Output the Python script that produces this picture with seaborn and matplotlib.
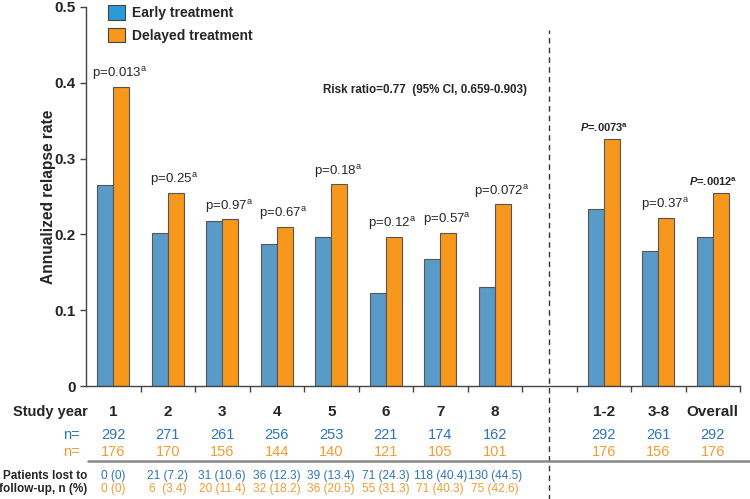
import matplotlib
matplotlib.use("Agg")
from matplotlib import pyplot as plt
from matplotlib.patches import Patch
from matplotlib.lines import Line2D
import seaborn as sns
import pandas as pd

categories = ["1", "2", "3", "4", "5", "6", "7", "8", " ", "1-2", "3-8", "Overall"]
groups = ["Early treatment", "Delayed treatment"]
early = [0.265, 0.202, 0.218, 0.187, 0.197, 0.123, 0.167, 0.131, None, 0.233, 0.178, 0.197]
delayed = [0.395, 0.255, 0.220, 0.210, 0.266, 0.197, 0.202, 0.240, None, 0.326, 0.222, 0.255]
p_labels = ["p=0.013", "p=0.25", "p=0.97", "p=0.67", "p=0.18", "p=0.12", "p=0.57", "p=0.072",
            None, "P=.0073", "p=0.37", "P=.0012"]
n_early = ["292", "271", "261", "256", "253", "221", "174", "162", "", "292", "261", "292"]
n_delayed = ["176", "170", "156", "144", "140", "121", "105", "101", "", "176", "156", "176"]
lost_early = ["0 (0)", "21 (7.2)", "31 (10.6)", "36 (12.3)", "39 (13.4)", "71 (24.3)", "118 (40.4)", "130 (44.5)"]
lost_delayed = ["0 (0)", "6  (3.4)", "20 (11.4)", "32 (18.2)", "36 (20.5)", "55 (31.3)", "71 (40.3)", "75 (42.6)"]

bar_blue = "#5a9ac7"
bar_orange = "#f7981d"
txt_blue = "#2e75b6"
txt_orange = "#f39c31"

rows = []
for c, e, d in zip(categories, early, delayed):
    if e is not None:
        rows.append({"cat": c, "grp": groups[0], "rate": e})
        rows.append({"cat": c, "grp": groups[1], "rate": d})
df = pd.DataFrame(rows)

sns.set_style("white")
plt.rcParams["font.family"] = ["Liberation Sans", "DejaVu Sans"]
plt.rcParams["mathtext.fontset"] = "custom"
plt.rcParams["mathtext.rm"] = "Liberation Sans"
plt.rcParams["mathtext.it"] = "Liberation Sans:italic"
plt.rcParams["mathtext.bf"] = "Liberation Sans:bold"
plt.rcParams["mathtext.bfit"] = "Liberation Sans:italic:bold"

fig, ax = plt.subplots(figsize=(7.5, 4.99), dpi=100)
fig.subplots_adjust(left=86 / 750, right=740 / 750, top=1 - 7 / 499, bottom=1 - 386 / 499)

sns.barplot(data=df, x="cat", y="rate", hue="grp", order=categories, hue_order=groups,
            palette=[bar_blue, bar_orange], saturation=1, width=0.59,
            edgecolor="#555555", linewidth=0.8, legend=False, ax=ax)

ax.set_xlim(-0.5, len(categories) - 0.5)
ax.set_ylim(0, 0.5)
ax.set_yticks([0, 0.1, 0.2, 0.3, 0.4, 0.5])
ax.set_yticklabels(["0", "0.1", "0.2", "0.3", "0.4", "0.5"], fontweight="bold", fontsize=11)
ax.set_ylabel("Annualized relapse rate", fontweight="bold", fontsize=11.2)
ax.yaxis.set_label_coords(-0.046, 0.5)
ax.set_xlabel("")
for s in ["top", "right"]:
    ax.spines[s].set_visible(False)
for s in ["left", "bottom"]:
    ax.spines[s].set_color("#444444")
    ax.spines[s].set_linewidth(1)
ax.tick_params(axis="y", direction="out", length=4, color="#444444", width=1, left=True)
ax.set_xticks(range(len(categories)))
ax.set_xticklabels(categories, fontweight="bold", fontsize=11)
ax.tick_params(axis="x", length=0, pad=14)
ax.set_xticks([i - 0.5 for i in range(1, len(categories) + 1)], minor=True)
ax.tick_params(axis="x", which="minor", direction="out", length=4, color="#444444", width=1, bottom=True)

# p-value labels
for i, lab in enumerate(p_labels):
    if lab is None:
        continue
    top = max(early[i], delayed[i]) + 0.006
    if lab.startswith("P"):
        ax.text(i, top, r"$\mathbfit{P}$" + lab[1:] + r"$^{\mathbf{a}}$",
                ha="center", va="bottom", fontsize=8, fontweight="bold")
    else:
        ax.text(i + 0.12, top, lab + r"$^{\mathrm{a}}$", ha="center", va="bottom", fontsize=9.5)

ax.text(0.363, 0.78, "Risk ratio=0.77  (95% CI, 0.659-0.903)", transform=ax.transAxes,
        fontsize=8.4, fontweight="bold", va="center", ha="left")

# dashed divider
ax.axvline(8, ymin=-0.3, ymax=0.94, color="#333333", linestyle=(0, (4, 3)), linewidth=1, clip_on=False)

# table below axis
tr = ax.get_xaxis_transform()
ax.text(-0.47, -0.069, "Study year", transform=tr, ha="right", va="center", fontweight="bold", fontsize=10.5)
ax.text(-0.62, -0.129, "n=", transform=tr, ha="right", va="center", color=txt_blue, fontsize=10.5)
ax.text(-0.62, -0.174, "n=", transform=tr, ha="right", va="center", color=txt_orange, fontsize=10.5)
for i in range(len(categories)):
    ax.text(i, -0.129, n_early[i], transform=tr, ha="center", va="center", color=txt_blue, fontsize=10.5)
    ax.text(i, -0.174, n_delayed[i], transform=tr, ha="center", va="center", color=txt_orange, fontsize=10.5)
ax.text(-0.47, -0.237, "Patients lost to", transform=tr, ha="right", va="center", fontweight="bold", fontsize=8.5)
ax.text(-0.47, -0.271, "follow-up, n (%)", transform=tr, ha="right", va="center", fontweight="bold", fontsize=8.5)
for i in range(len(lost_early)):
    ax.text(i, -0.237, lost_early[i], transform=tr, ha="center", va="center", color=txt_blue, fontsize=8.6)
    ax.text(i, -0.271, lost_delayed[i], transform=tr, ha="center", va="center", color=txt_orange, fontsize=8.6)

fig.add_artist(Line2D([88 / 750, 1.0], [1 - 461 / 499, 1 - 461 / 499], color="#888888", linewidth=1.8))

handles = [Patch(facecolor="#2a9bd5", edgecolor="#444444", linewidth=0.8),
           Patch(facecolor=bar_orange, edgecolor="#444444", linewidth=0.8)]
ax.legend(handles, groups, loc="upper left", bbox_to_anchor=(0.025, 1.02), frameon=False,
          prop={"weight": "bold", "size": 10}, handlelength=1.25, handleheight=1.25,
          labelspacing=0.55, handletextpad=0.45, borderaxespad=0)

fig.savefig("out.png", dpi=100)
